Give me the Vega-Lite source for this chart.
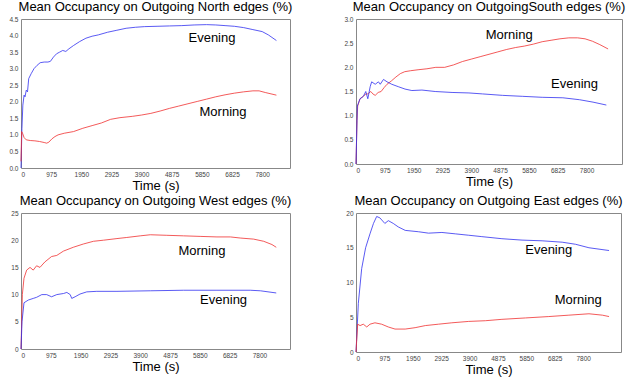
{
  "$schema": "https://vega.github.io/schema/vega-lite/v6.json",
  "padding": {"left": 8, "top": 0, "right": 0, "bottom": 0},
  "background": "white",
  "bounds": "flush",
  "columns": 2,
  "spacing": {"row": 45, "column": 66},
  "datasets": {
    "lines": [
      {"panel":"North","series":"Evening","t":0,"v":0},
      {"panel":"North","series":"Evening","t":30,"v":1.2},
      {"panel":"North","series":"Evening","t":60,"v":1.9},
      {"panel":"North","series":"Evening","t":100,"v":2.2},
      {"panel":"North","series":"Evening","t":130,"v":2.15},
      {"panel":"North","series":"Evening","t":170,"v":2.35},
      {"panel":"North","series":"Evening","t":210,"v":2.3},
      {"panel":"North","series":"Evening","t":250,"v":2.7},
      {"panel":"North","series":"Evening","t":330,"v":2.85},
      {"panel":"North","series":"Evening","t":420,"v":3.0},
      {"panel":"North","series":"Evening","t":520,"v":3.1},
      {"panel":"North","series":"Evening","t":620,"v":3.18},
      {"panel":"North","series":"Evening","t":750,"v":3.2},
      {"panel":"North","series":"Evening","t":870,"v":3.2},
      {"panel":"North","series":"Evening","t":950,"v":3.22},
      {"panel":"North","series":"Evening","t":1050,"v":3.35},
      {"panel":"North","series":"Evening","t":1150,"v":3.45},
      {"panel":"North","series":"Evening","t":1250,"v":3.5},
      {"panel":"North","series":"Evening","t":1350,"v":3.55},
      {"panel":"North","series":"Evening","t":1450,"v":3.52},
      {"panel":"North","series":"Evening","t":1550,"v":3.6},
      {"panel":"North","series":"Evening","t":1700,"v":3.7},
      {"panel":"North","series":"Evening","t":1900,"v":3.82},
      {"panel":"North","series":"Evening","t":2100,"v":3.92},
      {"panel":"North","series":"Evening","t":2300,"v":3.98},
      {"panel":"North","series":"Evening","t":2500,"v":4.02},
      {"panel":"North","series":"Evening","t":2800,"v":4.1},
      {"panel":"North","series":"Evening","t":3100,"v":4.16},
      {"panel":"North","series":"Evening","t":3400,"v":4.22},
      {"panel":"North","series":"Evening","t":3700,"v":4.25},
      {"panel":"North","series":"Evening","t":4000,"v":4.27},
      {"panel":"North","series":"Evening","t":4400,"v":4.28},
      {"panel":"North","series":"Evening","t":4800,"v":4.29},
      {"panel":"North","series":"Evening","t":5200,"v":4.3},
      {"panel":"North","series":"Evening","t":5600,"v":4.32},
      {"panel":"North","series":"Evening","t":6000,"v":4.33},
      {"panel":"North","series":"Evening","t":6300,"v":4.32},
      {"panel":"North","series":"Evening","t":6600,"v":4.3},
      {"panel":"North","series":"Evening","t":6900,"v":4.28},
      {"panel":"North","series":"Evening","t":7200,"v":4.24},
      {"panel":"North","series":"Evening","t":7500,"v":4.18},
      {"panel":"North","series":"Evening","t":7800,"v":4.12},
      {"panel":"North","series":"Evening","t":8000,"v":4.02},
      {"panel":"North","series":"Evening","t":8260,"v":3.85},
      {"panel":"North","series":"Morning","t":0,"v":0.2},
      {"panel":"North","series":"Morning","t":20,"v":1.1},
      {"panel":"North","series":"Morning","t":50,"v":1.05},
      {"panel":"North","series":"Morning","t":100,"v":0.92},
      {"panel":"North","series":"Morning","t":170,"v":0.85},
      {"panel":"North","series":"Morning","t":300,"v":0.83},
      {"panel":"North","series":"Morning","t":450,"v":0.82},
      {"panel":"North","series":"Morning","t":600,"v":0.8},
      {"panel":"North","series":"Morning","t":750,"v":0.77},
      {"panel":"North","series":"Morning","t":830,"v":0.75},
      {"panel":"North","series":"Morning","t":900,"v":0.78},
      {"panel":"North","series":"Morning","t":1000,"v":0.88},
      {"panel":"North","series":"Morning","t":1100,"v":0.95},
      {"panel":"North","series":"Morning","t":1200,"v":1.0},
      {"panel":"North","series":"Morning","t":1400,"v":1.05},
      {"panel":"North","series":"Morning","t":1700,"v":1.1},
      {"panel":"North","series":"Morning","t":2000,"v":1.2},
      {"panel":"North","series":"Morning","t":2300,"v":1.28},
      {"panel":"North","series":"Morning","t":2600,"v":1.36},
      {"panel":"North","series":"Morning","t":2900,"v":1.47},
      {"panel":"North","series":"Morning","t":3200,"v":1.52},
      {"panel":"North","series":"Morning","t":3600,"v":1.56},
      {"panel":"North","series":"Morning","t":3900,"v":1.6},
      {"panel":"North","series":"Morning","t":4200,"v":1.65},
      {"panel":"North","series":"Morning","t":4500,"v":1.72},
      {"panel":"North","series":"Morning","t":4800,"v":1.8},
      {"panel":"North","series":"Morning","t":5100,"v":1.87},
      {"panel":"North","series":"Morning","t":5400,"v":1.94},
      {"panel":"North","series":"Morning","t":5700,"v":2.01},
      {"panel":"North","series":"Morning","t":6000,"v":2.08},
      {"panel":"North","series":"Morning","t":6300,"v":2.15},
      {"panel":"North","series":"Morning","t":6600,"v":2.21},
      {"panel":"North","series":"Morning","t":6900,"v":2.26},
      {"panel":"North","series":"Morning","t":7200,"v":2.3},
      {"panel":"North","series":"Morning","t":7500,"v":2.33},
      {"panel":"North","series":"Morning","t":7700,"v":2.33},
      {"panel":"North","series":"Morning","t":7900,"v":2.28},
      {"panel":"North","series":"Morning","t":8260,"v":2.2},

      {"panel":"South","series":"Morning","t":0,"v":0},
      {"panel":"South","series":"Morning","t":34,"v":0.9},
      {"panel":"South","series":"Morning","t":57,"v":1.2},
      {"panel":"South","series":"Morning","t":136,"v":1.35},
      {"panel":"South","series":"Morning","t":250,"v":1.4},
      {"panel":"South","series":"Morning","t":330,"v":1.45},
      {"panel":"South","series":"Morning","t":400,"v":1.45},
      {"panel":"South","series":"Morning","t":500,"v":1.5},
      {"panel":"South","series":"Morning","t":570,"v":1.45},
      {"panel":"South","series":"Morning","t":650,"v":1.42},
      {"panel":"South","series":"Morning","t":750,"v":1.48},
      {"panel":"South","series":"Morning","t":850,"v":1.5},
      {"panel":"South","series":"Morning","t":950,"v":1.58},
      {"panel":"South","series":"Morning","t":1050,"v":1.65},
      {"panel":"South","series":"Morning","t":1200,"v":1.72},
      {"panel":"South","series":"Morning","t":1350,"v":1.8},
      {"panel":"South","series":"Morning","t":1500,"v":1.87},
      {"panel":"South","series":"Morning","t":1650,"v":1.91},
      {"panel":"South","series":"Morning","t":1850,"v":1.93},
      {"panel":"South","series":"Morning","t":2100,"v":1.95},
      {"panel":"South","series":"Morning","t":2400,"v":1.97},
      {"panel":"South","series":"Morning","t":2700,"v":2.0},
      {"panel":"South","series":"Morning","t":3000,"v":2.0},
      {"panel":"South","series":"Morning","t":3300,"v":2.05},
      {"panel":"South","series":"Morning","t":3600,"v":2.12},
      {"panel":"South","series":"Morning","t":3900,"v":2.17},
      {"panel":"South","series":"Morning","t":4200,"v":2.22},
      {"panel":"South","series":"Morning","t":4500,"v":2.27},
      {"panel":"South","series":"Morning","t":4800,"v":2.32},
      {"panel":"South","series":"Morning","t":5100,"v":2.37},
      {"panel":"South","series":"Morning","t":5400,"v":2.41},
      {"panel":"South","series":"Morning","t":5700,"v":2.44},
      {"panel":"South","series":"Morning","t":6000,"v":2.48},
      {"panel":"South","series":"Morning","t":6300,"v":2.53},
      {"panel":"South","series":"Morning","t":6600,"v":2.56},
      {"panel":"South","series":"Morning","t":6900,"v":2.59},
      {"panel":"South","series":"Morning","t":7200,"v":2.61},
      {"panel":"South","series":"Morning","t":7500,"v":2.61},
      {"panel":"South","series":"Morning","t":7750,"v":2.59},
      {"panel":"South","series":"Morning","t":8000,"v":2.54},
      {"panel":"South","series":"Morning","t":8250,"v":2.47},
      {"panel":"South","series":"Morning","t":8530,"v":2.38},
      {"panel":"South","series":"Evening","t":0,"v":0},
      {"panel":"South","series":"Evening","t":45,"v":1.2},
      {"panel":"South","series":"Evening","t":136,"v":1.35},
      {"panel":"South","series":"Evening","t":250,"v":1.4},
      {"panel":"South","series":"Evening","t":330,"v":1.5},
      {"panel":"South","series":"Evening","t":400,"v":1.35},
      {"panel":"South","series":"Evening","t":480,"v":1.6},
      {"panel":"South","series":"Evening","t":530,"v":1.7},
      {"panel":"South","series":"Evening","t":650,"v":1.65},
      {"panel":"South","series":"Evening","t":760,"v":1.7},
      {"panel":"South","series":"Evening","t":820,"v":1.65},
      {"panel":"South","series":"Evening","t":930,"v":1.75},
      {"panel":"South","series":"Evening","t":1050,"v":1.7},
      {"panel":"South","series":"Evening","t":1210,"v":1.65},
      {"panel":"South","series":"Evening","t":1430,"v":1.6},
      {"panel":"South","series":"Evening","t":1660,"v":1.55},
      {"panel":"South","series":"Evening","t":1890,"v":1.52},
      {"panel":"South","series":"Evening","t":2230,"v":1.53},
      {"panel":"South","series":"Evening","t":2680,"v":1.5},
      {"panel":"South","series":"Evening","t":3250,"v":1.48},
      {"panel":"South","series":"Evening","t":3820,"v":1.47},
      {"panel":"South","series":"Evening","t":4280,"v":1.45},
      {"panel":"South","series":"Evening","t":4960,"v":1.42},
      {"panel":"South","series":"Evening","t":5640,"v":1.4},
      {"panel":"South","series":"Evening","t":6300,"v":1.38},
      {"panel":"South","series":"Evening","t":7000,"v":1.37},
      {"panel":"South","series":"Evening","t":7560,"v":1.33},
      {"panel":"South","series":"Evening","t":8020,"v":1.28},
      {"panel":"South","series":"Evening","t":8470,"v":1.22},

      {"panel":"West","series":"Morning","t":0,"v":0},
      {"panel":"West","series":"Morning","t":44,"v":10},
      {"panel":"West","series":"Morning","t":98,"v":13},
      {"panel":"West","series":"Morning","t":185,"v":14.5},
      {"panel":"West","series":"Morning","t":295,"v":15},
      {"panel":"West","series":"Morning","t":400,"v":14.5},
      {"panel":"West","series":"Morning","t":510,"v":15.3},
      {"panel":"West","series":"Morning","t":620,"v":15},
      {"panel":"West","series":"Morning","t":780,"v":16},
      {"panel":"West","series":"Morning","t":1000,"v":17},
      {"panel":"West","series":"Morning","t":1170,"v":17.2},
      {"panel":"West","series":"Morning","t":1390,"v":18},
      {"panel":"West","series":"Morning","t":1710,"v":18.7},
      {"panel":"West","series":"Morning","t":2040,"v":19.3},
      {"panel":"West","series":"Morning","t":2370,"v":19.8},
      {"panel":"West","series":"Morning","t":2700,"v":20},
      {"panel":"West","series":"Morning","t":3140,"v":20.3},
      {"panel":"West","series":"Morning","t":3460,"v":20.5},
      {"panel":"West","series":"Morning","t":3900,"v":20.8},
      {"panel":"West","series":"Morning","t":4230,"v":21},
      {"panel":"West","series":"Morning","t":4770,"v":20.9},
      {"panel":"West","series":"Morning","t":5320,"v":20.8},
      {"panel":"West","series":"Morning","t":5860,"v":20.7},
      {"panel":"West","series":"Morning","t":6410,"v":20.6},
      {"panel":"West","series":"Morning","t":6850,"v":20.6},
      {"panel":"West","series":"Morning","t":7170,"v":20.4},
      {"panel":"West","series":"Morning","t":7610,"v":20.2},
      {"panel":"West","series":"Morning","t":7940,"v":19.8},
      {"panel":"West","series":"Morning","t":8210,"v":19.2},
      {"panel":"West","series":"Morning","t":8350,"v":18.7},
      {"panel":"West","series":"Evening","t":0,"v":0},
      {"panel":"West","series":"Evening","t":33,"v":5},
      {"panel":"West","series":"Evening","t":98,"v":8.5},
      {"panel":"West","series":"Evening","t":240,"v":9},
      {"panel":"West","series":"Evening","t":400,"v":9.3},
      {"panel":"West","series":"Evening","t":510,"v":9.5},
      {"panel":"West","series":"Evening","t":680,"v":10},
      {"panel":"West","series":"Evening","t":840,"v":10},
      {"panel":"West","series":"Evening","t":1000,"v":9.6},
      {"panel":"West","series":"Evening","t":1170,"v":10},
      {"panel":"West","series":"Evening","t":1390,"v":10.2},
      {"panel":"West","series":"Evening","t":1500,"v":10.4},
      {"panel":"West","series":"Evening","t":1610,"v":10},
      {"panel":"West","series":"Evening","t":1660,"v":9.3},
      {"panel":"West","series":"Evening","t":1770,"v":9.6},
      {"panel":"West","series":"Evening","t":1930,"v":10.1},
      {"panel":"West","series":"Evening","t":2150,"v":10.5},
      {"panel":"West","series":"Evening","t":2480,"v":10.6},
      {"panel":"West","series":"Evening","t":3140,"v":10.6},
      {"panel":"West","series":"Evening","t":4230,"v":10.7},
      {"panel":"West","series":"Evening","t":5320,"v":10.8},
      {"panel":"West","series":"Evening","t":6410,"v":10.8},
      {"panel":"West","series":"Evening","t":7500,"v":10.8},
      {"panel":"West","series":"Evening","t":7830,"v":10.7},
      {"panel":"West","series":"Evening","t":8350,"v":10.3},

      {"panel":"East","series":"Evening","t":0,"v":0},
      {"panel":"East","series":"Evening","t":80,"v":7},
      {"panel":"East","series":"Evening","t":195,"v":12},
      {"panel":"East","series":"Evening","t":330,"v":15},
      {"panel":"East","series":"Evening","t":480,"v":17},
      {"panel":"East","series":"Evening","t":600,"v":18.5},
      {"panel":"East","series":"Evening","t":710,"v":19.5},
      {"panel":"East","series":"Evening","t":820,"v":19.3},
      {"panel":"East","series":"Evening","t":990,"v":18.5},
      {"panel":"East","series":"Evening","t":1110,"v":18.9},
      {"panel":"East","series":"Evening","t":1280,"v":18.5},
      {"panel":"East","series":"Evening","t":1450,"v":18},
      {"panel":"East","series":"Evening","t":1690,"v":17.5},
      {"panel":"East","series":"Evening","t":2150,"v":17.3},
      {"panel":"East","series":"Evening","t":2490,"v":17.1},
      {"panel":"East","series":"Evening","t":2950,"v":17.2},
      {"panel":"East","series":"Evening","t":3410,"v":17},
      {"panel":"East","series":"Evening","t":3870,"v":16.8},
      {"panel":"East","series":"Evening","t":4320,"v":16.6},
      {"panel":"East","series":"Evening","t":5010,"v":16.3},
      {"panel":"East","series":"Evening","t":5700,"v":16.1},
      {"panel":"East","series":"Evening","t":6390,"v":16},
      {"panel":"East","series":"Evening","t":7080,"v":15.8},
      {"panel":"East","series":"Evening","t":7540,"v":15.5},
      {"panel":"East","series":"Evening","t":8000,"v":15},
      {"panel":"East","series":"Evening","t":8690,"v":14.6},
      {"panel":"East","series":"Morning","t":0,"v":0},
      {"panel":"East","series":"Morning","t":57,"v":4},
      {"panel":"East","series":"Morning","t":140,"v":3.8},
      {"panel":"East","series":"Morning","t":250,"v":4},
      {"panel":"East","series":"Morning","t":370,"v":3.6},
      {"panel":"East","series":"Morning","t":480,"v":4.0},
      {"panel":"East","series":"Morning","t":650,"v":4.2},
      {"panel":"East","series":"Morning","t":880,"v":4.0},
      {"panel":"East","series":"Morning","t":1110,"v":3.6},
      {"panel":"East","series":"Morning","t":1340,"v":3.3},
      {"panel":"East","series":"Morning","t":1690,"v":3.3},
      {"panel":"East","series":"Morning","t":2030,"v":3.5},
      {"panel":"East","series":"Morning","t":2380,"v":3.8},
      {"panel":"East","series":"Morning","t":2830,"v":4.0},
      {"panel":"East","series":"Morning","t":3290,"v":4.2},
      {"panel":"East","series":"Morning","t":3870,"v":4.4},
      {"panel":"East","series":"Morning","t":4440,"v":4.5},
      {"panel":"East","series":"Morning","t":5010,"v":4.7},
      {"panel":"East","series":"Morning","t":5820,"v":4.9},
      {"panel":"East","series":"Morning","t":6620,"v":5.1},
      {"panel":"East","series":"Morning","t":7310,"v":5.3},
      {"panel":"East","series":"Morning","t":8000,"v":5.5},
      {"panel":"East","series":"Morning","t":8460,"v":5.3},
      {"panel":"East","series":"Morning","t":8690,"v":5.1}
    ],
    "labels": [
      {"panel":"North","label":"Evening","t":6176,"v":3.92},
      {"panel":"North","label":"Morning","t":6534,"v":1.70},
      {"panel":"South","label":"Morning","t":5182,"v":2.67},
      {"panel":"South","label":"Evening","t":7394,"v":1.66},
      {"panel":"West","label":"Morning","t":5919,"v":18.1},
      {"panel":"West","label":"Evening","t":6628,"v":9.07},
      {"panel":"East","label":"Evening","t":6618,"v":14.7},
      {"panel":"East","label":"Morning","t":7628,"v":7.47}
    ]
  },
  "concat": [
    {
      "width": 269, "height": 149,
      "title": "Mean Occupancy on Outgoing North edges (%)",
      "layer": [
        {
          "data": {"name": "lines"},
          "transform": [{"filter": "datum.panel === 'North'"}],
          "mark": {"type": "line", "strokeWidth": 0.8},
          "encoding": {
            "x": {"field": "t", "type": "quantitative", "scale": {"domain": [0, 8700], "nice": false}, "axis": {"title": "Time (s)", "tickCount": 30, "values": [0,975,1950,2925,3900,4875,5850,6825,7800], "format": "d"}},
            "y": {"field": "v", "type": "quantitative", "scale": {"domain": [0, 4.5], "nice": false}, "axis": {"title": null, "tickCount": 30, "values": [0,0.5,1,1.5,2,2.5,3,3.5,4,4.5], "format": ".1f"}},
            "color": {"field": "series", "type": "nominal", "scale": {"domain": ["Evening","Morning"], "range": ["#3030f0","#f03030"]}, "legend": null}
          }
        },
        {
          "data": {"name": "labels"},
          "transform": [{"filter": "datum.panel === 'North'"}],
          "mark": {"type": "text", "fontSize": 13, "font": "Liberation Sans", "color": "black"},
          "encoding": {
            "x": {"field": "t", "type": "quantitative"},
            "y": {"field": "v", "type": "quantitative"},
            "text": {"field": "label"}
          }
        }
      ]
    },
    {
      "width": 266, "height": 145,
      "title": "Mean Occupancy on OutgoingSouth edges (%)",
      "layer": [
        {
          "data": {"name": "lines"},
          "transform": [{"filter": "datum.panel === 'South'"}],
          "mark": {"type": "line", "strokeWidth": 0.8},
          "encoding": {
            "x": {"field": "t", "type": "quantitative", "scale": {"domain": [0, 9000], "nice": false}, "axis": {"title": "Time (s)", "tickCount": 30, "values": [0,975,1950,2925,3900,4875,5850,6825,7800], "format": "d"}},
            "y": {"field": "v", "type": "quantitative", "scale": {"domain": [0, 3], "nice": false}, "axis": {"title": null, "tickCount": 30, "values": [0,0.5,1,1.5,2,2.5,3], "format": ".1f"}},
            "color": {"field": "series", "type": "nominal", "scale": {"domain": ["Evening","Morning"], "range": ["#3030f0","#f03030"]}, "legend": null}
          }
        },
        {
          "data": {"name": "labels"},
          "transform": [{"filter": "datum.panel === 'South'"}],
          "mark": {"type": "text", "fontSize": 13, "font": "Liberation Sans", "color": "black"},
          "encoding": {
            "x": {"field": "t", "type": "quantitative"},
            "y": {"field": "v", "type": "quantitative"},
            "text": {"field": "label"}
          }
        }
      ]
    },
    {
      "width": 269, "height": 136,
      "title": "Mean Occupancy on Outgoing West edges (%)",
      "layer": [
        {
          "data": {"name": "lines"},
          "transform": [{"filter": "datum.panel === 'West'"}],
          "mark": {"type": "line", "strokeWidth": 0.8},
          "encoding": {
            "x": {"field": "t", "type": "quantitative", "scale": {"domain": [0, 8800], "nice": false}, "axis": {"title": "Time (s)", "tickCount": 30, "values": [0,975,1950,2925,3900,4875,5850,6825,7800], "format": "d"}},
            "y": {"field": "v", "type": "quantitative", "scale": {"domain": [0, 25], "nice": false}, "axis": {"title": null, "tickCount": 30, "values": [0,5,10,15,20,25], "format": "d"}},
            "color": {"field": "series", "type": "nominal", "scale": {"domain": ["Evening","Morning"], "range": ["#3030f0","#f03030"]}, "legend": null}
          }
        },
        {
          "data": {"name": "labels"},
          "transform": [{"filter": "datum.panel === 'West'"}],
          "mark": {"type": "text", "fontSize": 13, "font": "Liberation Sans", "color": "black"},
          "encoding": {
            "x": {"field": "t", "type": "quantitative"},
            "y": {"field": "v", "type": "quantitative"},
            "text": {"field": "label"}
          }
        }
      ]
    },
    {
      "width": 265, "height": 139,
      "title": "Mean Occupancy on Outgoing East edges (%)",
      "layer": [
        {
          "data": {"name": "lines"},
          "transform": [{"filter": "datum.panel === 'East'"}],
          "mark": {"type": "line", "strokeWidth": 0.8},
          "encoding": {
            "x": {"field": "t", "type": "quantitative", "scale": {"domain": [0, 9100], "nice": false}, "axis": {"title": "Time (s)", "tickCount": 30, "values": [0,975,1950,2925,3900,4875,5850,6825,7800], "format": "d"}},
            "y": {"field": "v", "type": "quantitative", "scale": {"domain": [0, 20], "nice": false}, "axis": {"title": null, "tickCount": 30, "values": [0,5,10,15,20], "format": "d"}},
            "color": {"field": "series", "type": "nominal", "scale": {"domain": ["Evening","Morning"], "range": ["#3030f0","#f03030"]}, "legend": null}
          }
        },
        {
          "data": {"name": "labels"},
          "transform": [{"filter": "datum.panel === 'East'"}],
          "mark": {"type": "text", "fontSize": 13, "font": "Liberation Sans", "color": "black"},
          "encoding": {
            "x": {"field": "t", "type": "quantitative"},
            "y": {"field": "v", "type": "quantitative"},
            "text": {"field": "label"}
          }
        }
      ]
    }
  ],
  "config": {
    "view": {"stroke": "#888888", "strokeWidth": 1},
    "axis": {
      "grid": false, "ticks": false, "domain": false, "labelOverlap": false,
      "labelFont": "Liberation Sans", "labelFontSize": 6.5, "labelColor": "#444444", "labelPadding": 3,
      "titleFont": "Liberation Sans", "titleFontSize": 13, "titleFontWeight": "normal", "titleColor": "#000000", "titlePadding": 2
    },
    "title": {"font": "Liberation Sans", "fontSize": 13, "fontWeight": "normal", "color": "#000000", "offset": 2}
  }
}
